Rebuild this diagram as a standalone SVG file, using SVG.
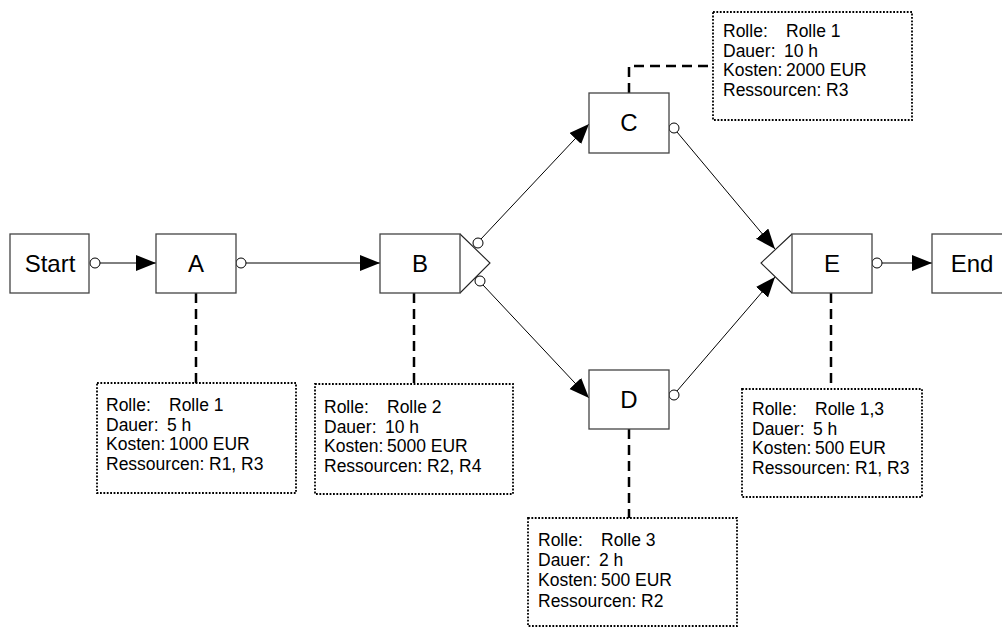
<svg xmlns="http://www.w3.org/2000/svg" width="1002" height="628" viewBox="0 0 1002 628">
  <style>
    .node { fill: #fff; stroke: #444; stroke-width: 1.3; }
    .gate { fill: #fff; stroke: #222; stroke-width: 1.1; }
    .lbl { font-family: "Liberation Sans", Arial, sans-serif; font-size: 24px; fill: #000; text-anchor: middle; }
    .note { fill: #fff; stroke: #000; stroke-width: 1.8; stroke-dasharray: 1.8 1.6; }
    .nt { font-family: "Liberation Sans", Arial, sans-serif; font-size: 17.5px; fill: #000; }
    .flow { fill: none; stroke: #000; stroke-width: 1; }
    .link { fill: none; stroke: #000; stroke-width: 2.5; stroke-dasharray: 10 6; }
    .port { fill: #fff; stroke: #000; stroke-width: 1; }
  </style>
  <defs>
    <marker id="arrow" markerUnits="userSpaceOnUse" markerWidth="22" markerHeight="18" refX="20" refY="8" orient="auto">
      <path d="M0,0 L20,8 L0,16 Z" fill="#000"/>
    </marker>
  </defs>

  <rect width="1002" height="628" fill="#fff"/>

  <!-- flow connectors and annotation links -->
  <g id="connectors">
    <line class="flow" x1="100" y1="263" x2="156" y2="263" marker-end="url(#arrow)"/>
    <line class="flow" x1="246" y1="263" x2="380" y2="263" marker-end="url(#arrow)"/>
    <line class="flow" x1="481" y1="239" x2="589" y2="124" marker-end="url(#arrow)"/>
    <line class="flow" x1="483" y1="285" x2="589" y2="398" marker-end="url(#arrow)"/>
    <line class="flow" x1="677" y1="132" x2="775" y2="249" marker-end="url(#arrow)"/>
    <line class="flow" x1="677" y1="391" x2="775" y2="277" marker-end="url(#arrow)"/>
    <line class="flow" x1="882" y1="263" x2="932" y2="263" marker-end="url(#arrow)"/>

    <line class="link" x1="196" y1="293" x2="196" y2="383"/>
    <line class="link" x1="414" y1="293" x2="414" y2="384"/>
    <polyline class="link" points="629,93 629,66 713,66"/>
    <line class="link" x1="629" y1="429" x2="629" y2="518"/>
    <line class="link" x1="831" y1="293" x2="831" y2="389"/>

    <circle class="port" cx="95" cy="263" r="5"/>
    <circle class="port" cx="241" cy="263" r="5"/>
    <circle class="port" cx="478" cy="243" r="5"/>
    <circle class="port" cx="480" cy="281" r="5"/>
    <circle class="port" cx="674" cy="128" r="5"/>
    <circle class="port" cx="674" cy="395" r="5"/>
    <circle class="port" cx="877" cy="263" r="5"/>
  </g>

  <g id="start">
    <rect class="node" x="10" y="234" width="79" height="59"/>
    <text class="lbl" x="50" y="272">Start</text>
  </g>

  <g id="task-a">
    <rect class="node" x="156" y="234" width="80" height="59"/>
    <text class="lbl" x="196" y="272">A</text>
  </g>

  <g id="task-b">
    <polyline class="gate" points="460,234 490,263 460,293"/>
    <rect class="node" x="380" y="234" width="80" height="59"/>
    <text class="lbl" x="420" y="272">B</text>
  </g>

  <g id="task-c">
    <rect class="node" x="589" y="93" width="80" height="60"/>
    <text class="lbl" x="629" y="131">C</text>
  </g>

  <g id="task-d">
    <rect class="node" x="589" y="370" width="80" height="59"/>
    <text class="lbl" x="629" y="408">D</text>
  </g>

  <g id="task-e">
    <polyline class="gate" points="792,234 761,263 792,293"/>
    <rect class="node" x="792" y="234" width="80" height="59"/>
    <text class="lbl" x="832" y="272">E</text>
  </g>

  <g id="end">
    <rect class="node" x="932" y="234" width="80" height="59"/>
    <text class="lbl" x="972" y="272">End</text>
  </g>

  <g id="note-a">
    <rect class="note" x="97" y="383" width="199" height="110"/>
    <text class="nt" x="106" y="411">Rolle:<tspan x="169">Rolle 1</tspan></text>
    <text class="nt" x="106" y="431">Dauer:<tspan x="167">5 h</tspan></text>
    <text class="nt" x="106" y="450">Kosten:<tspan x="169">1000 EUR</tspan></text>
    <text class="nt" x="106" y="470">Ressourcen:<tspan x="209">R1, R3</tspan></text>
  </g>

  <g id="note-b">
    <rect class="note" x="315" y="384" width="198" height="110"/>
    <text class="nt" x="324" y="413">Rolle:<tspan x="387">Rolle 2</tspan></text>
    <text class="nt" x="324" y="433">Dauer:<tspan x="385">10 h</tspan></text>
    <text class="nt" x="324" y="452">Kosten:<tspan x="387">5000 EUR</tspan></text>
    <text class="nt" x="324" y="472">Ressourcen:<tspan x="427">R2, R4</tspan></text>
  </g>

  <g id="note-c">
    <rect class="note" x="713" y="12" width="199" height="108"/>
    <text class="nt" x="723" y="37">Rolle:<tspan x="786">Rolle 1</tspan></text>
    <text class="nt" x="723" y="57">Dauer:<tspan x="784">10 h</tspan></text>
    <text class="nt" x="723" y="76">Kosten:<tspan x="786">2000 EUR</tspan></text>
    <text class="nt" x="723" y="96">Ressourcen:<tspan x="826">R3</tspan></text>
  </g>

  <g id="note-d">
    <rect class="note" x="528" y="518" width="209" height="108"/>
    <text class="nt" x="538" y="546">Rolle:<tspan x="601">Rolle 3</tspan></text>
    <text class="nt" x="538" y="566">Dauer:<tspan x="599">2 h</tspan></text>
    <text class="nt" x="538" y="586">Kosten:<tspan x="601">500 EUR</tspan></text>
    <text class="nt" x="538" y="607">Ressourcen:<tspan x="641">R2</tspan></text>
  </g>

  <g id="note-e">
    <rect class="note" x="742" y="389" width="180" height="108"/>
    <text class="nt" x="752" y="415">Rolle:<tspan x="815">Rolle 1,3</tspan></text>
    <text class="nt" x="752" y="435">Dauer:<tspan x="813">5 h</tspan></text>
    <text class="nt" x="752" y="454">Kosten:<tspan x="815">500 EUR</tspan></text>
    <text class="nt" x="752" y="474">Ressourcen:<tspan x="855">R1, R3</tspan></text>
  </g>
</svg>
